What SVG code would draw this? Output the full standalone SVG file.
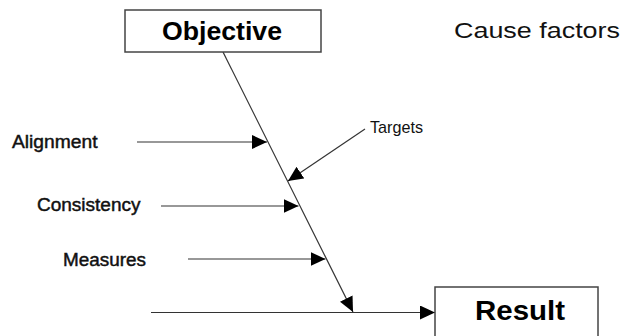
<svg xmlns="http://www.w3.org/2000/svg" width="630" height="336" viewBox="0 0 630 336">
  <defs>
    <marker id="head" markerUnits="userSpaceOnUse" markerWidth="16" markerHeight="14" refX="15" refY="7" orient="auto">
      <path d="M0,0 L15,7 L0,14 Z" fill="#000"/>
    </marker>
    <style>
      .box { fill: #fff; stroke: #444; stroke-width: 1.5; }
      .arrow { fill: none; stroke: #333; stroke-width: 1.2; marker-end: url(#head); }
      .title { font-family: "Liberation Sans", Arial, sans-serif; font-weight: bold; fill: #000; }
      .label { font-family: "Liberation Sans", Arial, sans-serif; font-size: 18px; fill: #111; stroke: #111; stroke-width: 0.45; }
      .plain { font-family: "Liberation Sans", Arial, sans-serif; fill: #111; }
    </style>
  </defs>
  <rect width="630" height="336" fill="#fff"/>

  <!-- spine and cause arrows -->
  <g id="connectors">
    <path class="arrow" d="M223,52 L353,312"/>
    <path class="arrow" d="M137,142 L267,142"/>
    <path class="arrow" d="M161,206 L298.5,206"/>
    <path class="arrow" d="M188,259 L325.5,259"/>
    <path class="arrow" d="M365,129 L288,181"/>
    <path class="arrow" d="M151,312.5 L435,312.5"/>
  </g>

  <g id="objective">
    <rect class="box" x="125" y="10" width="196" height="42"/>
    <text class="title" x="162" y="40" font-size="25" textLength="120" lengthAdjust="spacingAndGlyphs">Objective</text>
  </g>

  <g id="cause-factors">
    <text class="plain" x="454" y="38" font-size="22.5" textLength="166" lengthAdjust="spacingAndGlyphs">Cause factors</text>
  </g>

  <g id="alignment">
    <text class="label" x="12" y="148" textLength="85.5" lengthAdjust="spacingAndGlyphs">Alignment</text>
  </g>

  <g id="consistency">
    <text class="label" x="37" y="210.5" textLength="103.5" lengthAdjust="spacingAndGlyphs">Consistency</text>
  </g>

  <g id="measures">
    <text class="label" x="63" y="265.5" textLength="83" lengthAdjust="spacingAndGlyphs">Measures</text>
  </g>

  <g id="targets">
    <text class="plain" x="370" y="133" font-size="17" textLength="53" lengthAdjust="spacingAndGlyphs">Targets</text>
  </g>

  <g id="result">
    <rect class="box" x="435" y="287" width="163" height="60"/>
    <text class="title" x="475" y="320" font-size="27" textLength="90" lengthAdjust="spacingAndGlyphs">Result</text>
  </g>
</svg>
